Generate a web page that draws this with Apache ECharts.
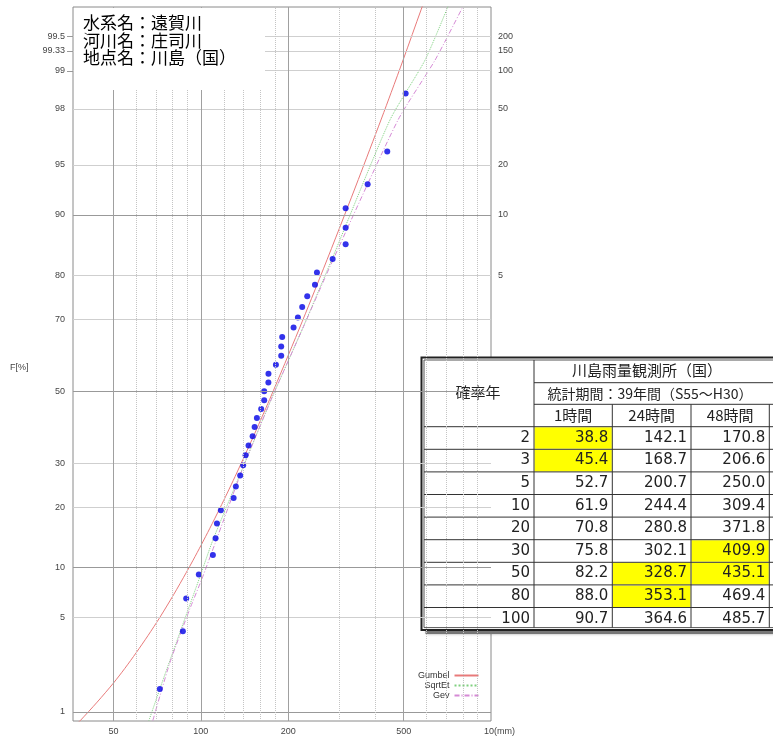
<!DOCTYPE html>
<html>
<head>
<meta charset="utf-8">
<script src="https://cdn.jsdelivr.net/npm/echarts@6/dist/echarts.min.js"></script>
<style>
  html, body { margin: 0; padding: 0; background: #fff; }
  #renderChart { width: 773px; height: 740px; }
</style>
</head>
<body>
<div id="renderChart"></div>
<script>
// plotted annual maxima (mm) and their plotting position F (%)
var obsRain = [72.2, 86.7, 89.0, 98.4, 110.0, 112.4, 113.6, 117.2, 129.7, 132.0,
  136.6, 139.9, 142.6, 146.0, 150.8, 153.2, 156.0, 161.4, 165.3, 165.3,
  170.9, 171.0, 181.4, 189.2, 189.2, 190.7, 208.7, 216.0, 223.5, 232.6,
  247.3, 251.2, 284.6, 315.5, 315.5, 315.5, 375.7, 439.0, 508.0];
var obsF = [1.53, 4.08, 6.63, 9.18, 11.73, 14.29, 16.84, 19.39, 21.94, 24.49,
  27.04, 29.59, 32.14, 34.69, 37.24, 39.80, 42.35, 44.90, 47.45, 50.00,
  52.55, 55.10, 57.65, 60.20, 62.76, 65.31, 67.86, 70.41, 72.96, 75.51,
  78.06, 80.61, 83.16, 85.71, 88.27, 90.82, 93.37, 95.92, 98.47];

// fitted curves: [mm, F%]
var gumbelCurve = [[37.6, 0.8], [38.4, 0.84], [43.9, 1.2], [49.9, 1.7], [54.6, 2.2],
  [59.9, 2.89], [65.7, 3.8], [72.2, 5.03], [80.6, 7.0], [89.1, 9.42],
  [94.0, 11.0], [100.2, 13.2], [107.4, 16.0], [116.3, 19.8], [123.3, 23.0],
  [131.2, 26.8], [137.6, 30.0], [146.5, 34.5], [153.4, 38.0], [162.8, 42.8],
  [172.7, 47.7], [194.7, 58.0], [218.0, 67.4], [240.7, 75.0], [272.5, 83.1],
  [313.0, 90.0], [348.9, 93.8], [418.7, 97.6], [452.8, 98.5], [499.3, 99.21],
  [574.0, 99.72], [600.0, 99.8]];
var sqrtEtCurve = [[66.2, 0.84], [74.0, 1.80], [89.5, 5.37], [99.2, 8.88], [110.0, 14.0],
  [138.5, 28.4], [174.4, 47.5], [223.0, 67.2], [282.3, 83.0], [448.4, 97.56],
  [592.2, 99.19], [710.7, 99.74]];
var gevCurve = [[68.3, 0.84], [78.2, 2.44], [91.6, 5.70], [100.8, 8.65], [111.8, 13.4],
  [139.6, 28.9], [175.7, 48.1], [224.7, 67.7], [285.3, 83.0], [478.0, 97.56],
  [641.1, 99.19], [800.5, 99.74]];

// axis ticks
var fTicks = [1, 5, 10, 20, 30, 50, 70, 80, 90, 95, 98, 99, 99.33, 99.5];
var fDark = [1, 10, 50, 90];
var rpTicks = [5, 10, 20, 50, 100, 150, 200];
var rpF = [80, 90, 95, 98, 99, 99.33, 99.5];
var xMajor = [50, 100, 200, 500];
var xMinor = [60, 70, 80, 90, 120, 140, 160, 180, 300, 400, 600, 700, 800, 900];

// table
var returnYears = [2, 3, 5, 10, 20, 30, 50, 80, 100];
var rain1h = [38.8, 45.4, 52.7, 61.9, 70.8, 75.8, 82.2, 88.0, 90.7];
var rain24h = [142.1, 168.7, 200.7, 244.4, 280.8, 302.1, 328.7, 353.1, 364.6];
var rain48h = [170.8, 206.6, 250.0, 309.4, 371.8, 409.9, 435.1, 469.4, 485.7];
var durations = ['1時間', '24時間', '48時間'];
var highlightCells = [[0, 0], [1, 0], [6, 1], [7, 1], [5, 2], [6, 2]];

// normal quantile (probability paper)
function probit(p) {
  var a = [-3.969683028665376e+01, 2.209460984245205e+02, -2.759285104469687e+02, 1.383577518672690e+02, -3.066479806614716e+01, 2.506628277459239e+00];
  var b = [-5.447609879822406e+01, 1.615858368580409e+02, -1.556989798598866e+02, 6.680131188771972e+01, -1.328068155288572e+01];
  var c = [-7.784894002430293e-03, -3.223964580411365e-01, -2.400758277161838e+00, -2.549732539343734e+00, 4.374664141464968e+00, 2.938163982698783e+00];
  var d = [7.784695709041462e-03, 3.224671290700398e-01, 2.445134137142996e+00, 3.754408661907416e+00];
  var pl = 0.02425, q, r;
  if (p < pl) {
    q = Math.sqrt(-2 * Math.log(p));
    return (((((c[0]*q+c[1])*q+c[2])*q+c[3])*q+c[4])*q+c[5]) / ((((d[0]*q+d[1])*q+d[2])*q+d[3])*q+1);
  }
  if (p > 1 - pl) {
    q = Math.sqrt(-2 * Math.log(1 - p));
    return -(((((c[0]*q+c[1])*q+c[2])*q+c[3])*q+c[4])*q+c[5]) / ((((d[0]*q+d[1])*q+d[2])*q+d[3])*q+1);
  }
  q = p - 0.5; r = q * q;
  return (((((a[0]*r+a[1])*r+a[2])*r+a[3])*r+a[4])*r+a[5])*q / (((((b[0]*r+b[1])*r+b[2])*r+b[3])*r+b[4])*r+1);
}
function toPlot(pair) { return [pair[0], probit(pair[1] / 100)]; }
function nearestLabel(v, vals, labels) {
  var best = 0;
  for (var i = 1; i < vals.length; i++) {
    if (Math.abs(vals[i] - v) < Math.abs(vals[best] - v)) best = i;
  }
  return String(labels[best]);
}

var fZ = fTicks.map(function (f) { return probit(f / 100); });
var rpZ = rpF.map(function (f) { return probit(f / 100); });
var tickZ = [99, 99.33, 99.5].map(function (f) { return probit(f / 100); });

var gridLines = [];
fTicks.forEach(function (f) {
  var dark = fDark.indexOf(f) >= 0;
  gridLines.push({ yAxis: probit(f / 100), lineStyle: { color: dark ? '#999' : '#cfcfcf', width: 1, type: 'solid' } });
});
xMinor.forEach(function (v) {
  gridLines.push({ xAxis: v, lineStyle: { color: '#c4c4c4', width: 1, type: 'dotted' } });
});
xMajor.forEach(function (v) {
  gridLines.push({ xAxis: v, lineStyle: { color: '#a0a0a0', width: 1, type: 'solid' },
    label: { show: true, position: 'start', distance: 6, formatter: String(v),
      fontFamily: 'Liberation Sans', fontSize: 9, color: '#444' } });
});

// table graphics
var colX = [421.5, 534, 612.3, 691, 769.3, 848];
var headY = [357.5, 382.7, 404.3, 426.7];
var rowH = 22.6;
var tableBottom = headY[3] + rowH * returnYears.length;
var tableRight = 860;
var tbl = [];
tbl.push({ type: 'rect', shape: { x: colX[0] + 4, y: headY[0] + 4, width: tableRight - colX[0], height: tableBottom - headY[0] },
  style: { fill: '#777', shadowBlur: 3, shadowColor: 'rgba(0,0,0,0.5)' } });
tbl.push({ type: 'rect', shape: { x: colX[0], y: headY[0], width: tableRight - colX[0], height: tableBottom - headY[0] },
  style: { fill: '#fff', stroke: '#222', lineWidth: 2 } });
highlightCells.forEach(function (hc) {
  var y = headY[3] + hc[0] * rowH;
  tbl.push({ type: 'rect', shape: { x: colX[hc[1] + 1] + 0.5, y: y + 0.5, width: colX[hc[1] + 2] - colX[hc[1] + 1] - 1, height: rowH - 1 },
    style: { fill: '#ffff00' } });
});
tbl.push({ type: 'rect', shape: { x: colX[0] + 2.5, y: headY[0] + 2.5, width: tableRight - colX[0], height: tableBottom - headY[0] - 5 },
  style: { fill: null, stroke: '#555', lineWidth: 1 } });
function hline(x1, x2, y) {
  tbl.push({ type: 'line', shape: { x1: x1, y1: y, x2: x2, y2: y }, style: { stroke: '#333', lineWidth: 1 } });
}
function vline(x, y1, y2) {
  tbl.push({ type: 'line', shape: { x1: x, y1: y1, x2: x, y2: y2 }, style: { stroke: '#333', lineWidth: 1 } });
}
hline(colX[1], tableRight, headY[1]);
hline(colX[1], tableRight, headY[2]);
for (var r = 0; r < returnYears.length; r++) {
  hline(colX[0] + 2.5, tableRight, headY[3] + r * rowH);
}
vline(colX[1], headY[0] + 2.5, tableBottom - 2.5);
vline(colX[2], headY[2], tableBottom - 2.5);
vline(colX[3], headY[2], tableBottom - 2.5);
vline(colX[4], headY[2], tableBottom - 2.5);

var cjk = 'Noto Sans CJK JP';
function tText(x, y, s, align, font, size) {
  tbl.push({ type: 'text', x: x, y: y, style: { text: s, fill: '#222', font: size + 'px "' + font + '"', textAlign: align, textVerticalAlign: 'middle' } });
}
tText(478, (headY[0] + headY[3]) / 2, '確率年', 'center', cjk, 15);
tText(647, (headY[0] + headY[1]) / 2, '川島雨量観測所（国）', 'center', cjk, 15);
tText(650, (headY[1] + headY[2]) / 2, '統計期間：39年間（S55～H30）', 'center', cjk, 14);
durations.forEach(function (d, i) {
  tText((colX[i + 1] + colX[i + 2]) / 2, (headY[2] + headY[3]) / 2, d, 'center', cjk, 15);
});
returnYears.forEach(function (yr, i) {
  var y = headY[3] + i * rowH + rowH / 2;
  tText(colX[1] - 4, y, String(yr), 'right', 'DejaVu Sans', 15);
  tText(colX[2] - 4, y, rain1h[i].toFixed(1), 'right', 'DejaVu Sans', 15);
  tText(colX[3] - 4, y, rain24h[i].toFixed(1), 'right', 'DejaVu Sans', 15);
  tText(colX[4] - 4, y, rain48h[i].toFixed(1), 'right', 'DejaVu Sans', 15);
});

var myChart = echarts.init(document.getElementById('renderChart'), null, { renderer: 'canvas' });

var option = {
  animation: false,
  backgroundColor: '#fff',
  grid: { left: 73, top: 7, width: 418, height: 714, show: true, borderColor: '#8a8a8a', borderWidth: 1 },
  xAxis: {
    type: 'log', logBase: 10, min: 36.25, max: 1000,
    axisLine: { show: false }, axisTick: { show: false }, axisLabel: { show: false }, splitLine: { show: false }
  },
  yAxis: [{
    type: 'value', min: -2.394, max: 2.791, position: 'left',
    axisLine: { show: false },
    axisTick: { show: true, length: 6, customValues: tickZ, lineStyle: { color: '#999' } },
    axisLabel: {
      customValues: fZ, margin: 8,
      formatter: function (v) { return nearestLabel(v, fZ, fTicks); },
      fontFamily: 'Liberation Sans', fontSize: 9, color: '#444'
    },
    splitLine: { show: false }
  }, {
    type: 'value', min: -2.394, max: 2.791, position: 'right',
    axisLine: { show: false }, axisTick: { show: false },
    axisLabel: {
      customValues: rpZ, margin: 7,
      formatter: function (v) { return nearestLabel(v, rpZ, rpTicks); },
      fontFamily: 'Liberation Sans', fontSize: 9, color: '#444'
    },
    splitLine: { show: false }
  }],
  legend: {
    data: ['Gumbel', 'SqrtEt', 'Gev'],
    orient: 'vertical', left: 413, top: 665, align: 'right',
    backgroundColor: '#fff', padding: [6, 5, 10, 5], itemGap: 1,
    itemWidth: 24, itemHeight: 8,
    itemStyle: { opacity: 0, borderWidth: 0 },
    textStyle: { fontFamily: 'Liberation Sans', fontSize: 9, color: '#333', width: 38 }
  },
  series: [{
    name: 'grid', type: 'line', data: [], z: 1, silent: true,
    markLine: { silent: true, symbol: 'none', animation: false, label: { show: false }, data: gridLines }
  }, {
    name: 'Gumbel', type: 'line', data: gumbelCurve.map(toPlot), smooth: 0.3,
    showSymbol: false, symbol: 'none', lineStyle: { color: '#e87a7a', width: 1 }, itemStyle: { color: '#e87a7a' }, z: 3
  }, {
    name: 'SqrtEt', type: 'line', data: sqrtEtCurve.map(toPlot), smooth: 0.2,
    showSymbol: false, symbol: 'none', lineStyle: { color: '#7fd07f', width: 1, type: 'dotted' }, itemStyle: { color: '#7fd07f' }, z: 3
  }, {
    name: 'Gev', type: 'line', data: gevCurve.map(toPlot), smooth: 0.2,
    showSymbol: false, symbol: 'none', lineStyle: { color: '#d58ad5', width: 1, type: [5, 2, 1, 2] }, itemStyle: { color: '#d58ad5' }, z: 3
  }, {
    name: 'obs', type: 'scatter', symbolSize: 6, z: 4,
    itemStyle: { color: '#0000e6' },
    data: obsRain.map(function (v, i) { return [v, probit(obsF[i] / 100)]; })
  }],
  graphic: [{
    type: 'rect', shape: { x: 74, y: 8, width: 191, height: 82 }, style: { fill: '#fff' }, z: 100
  }, {
    type: 'text', x: 83, y: 23, z: 101, style: { text: '水系名：遠賀川', fill: '#000', font: '17px "Noto Sans CJK JP"', textVerticalAlign: 'middle' }
  }, {
    type: 'text', x: 83, y: 41, z: 101, style: { text: '河川名：庄司川', fill: '#000', font: '17px "Noto Sans CJK JP"', textVerticalAlign: 'middle' }
  }, {
    type: 'text', x: 83, y: 58, z: 101, style: { text: '地点名：川島（国）', fill: '#000', font: '17px "Noto Sans CJK JP"', textVerticalAlign: 'middle' }
  }, {
    type: 'text', x: 10, y: 368, z: 101, style: { text: 'F[%]', fill: '#444', font: '9px "Liberation Sans"', textVerticalAlign: 'middle' }
  }, {
    type: 'text', x: 484, y: 732, z: 101, style: { text: '10(mm)', fill: '#444', font: '9px "Liberation Sans"', textVerticalAlign: 'middle' }
  }, {
    type: 'group', z: 200, children: tbl
  }]
};

myChart.setOption(option);
</script>
</body>
</html>
